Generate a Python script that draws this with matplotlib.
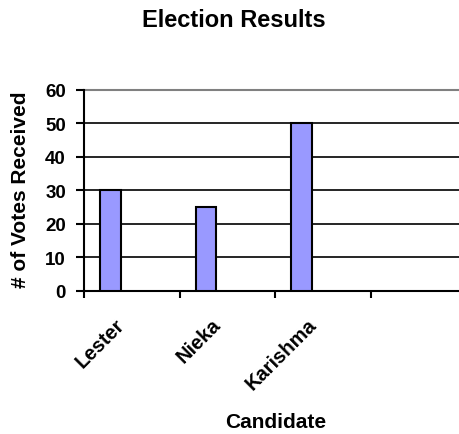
import matplotlib
matplotlib.use("Agg")
import matplotlib.pyplot as plt
import numpy as np

plt.rcParams['font.family'] = ['Liberation Sans', 'DejaVu Sans']

candidates = ["Lester", "Nieka", "Karishma"]
votes = [30, 25, 50]
n_slots = 4
yticks = [0, 10, 20, 30, 40, 50, 60]

fig = plt.figure(figsize=(4.59, 4.35), dpi=100)
ax = fig.add_axes([0.183, 0.3295, 0.834, 0.462])

x = np.arange(len(candidates))
bar_off = 0.275
bar_w = 0.215
ax.bar(x + bar_off, votes, width=bar_w, color="#9999FF", edgecolor="black",
       linewidth=1.5, zorder=3)

ax.set_xlim(0, n_slots)
ax.set_ylim(0, 60)
ax.set_yticks(yticks)
for v in yticks[1:-1]:
    ax.axhline(v, color="black", linewidth=1.2, zorder=1)
ax.axhline(60, color="#808080", linewidth=1.5, zorder=1, clip_on=False)

for s in ["top", "right"]:
    ax.spines[s].set_visible(False)
ax.spines["left"].set_linewidth(1.5)
ax.spines["bottom"].set_linewidth(1.5)

ax.set_xticks(np.arange(n_slots + 1), minor=True)
ax.set_xticks(x + bar_off + 0.12)
ax.set_xticklabels(candidates, rotation=45, ha="right", va="center",
                   rotation_mode="anchor", fontsize=14.5, fontweight="bold")
ax.tick_params(axis="x", which="major", length=0, pad=22)
ax.tick_params(axis="x", which="minor", length=5, width=1.5, direction="out")
ax.tick_params(axis="y", length=6, width=1.5, direction="out", labelsize=13.5, pad=7)
for lab in ax.get_yticklabels():
    lab.set_fontweight("bold")

fig.text(0.51, 0.952, "Election Results", ha="center", va="center",
         fontsize=17, fontweight="bold")
fig.text(0.044, 0.563, "# of Votes Received", ha="center", va="center",
         rotation=90, fontsize=15, fontweight="bold")
fig.text(0.601, 0.028, "Candidate", ha="center", va="center",
         fontsize=15, fontweight="bold")

fig.savefig("out.png", dpi=100)
